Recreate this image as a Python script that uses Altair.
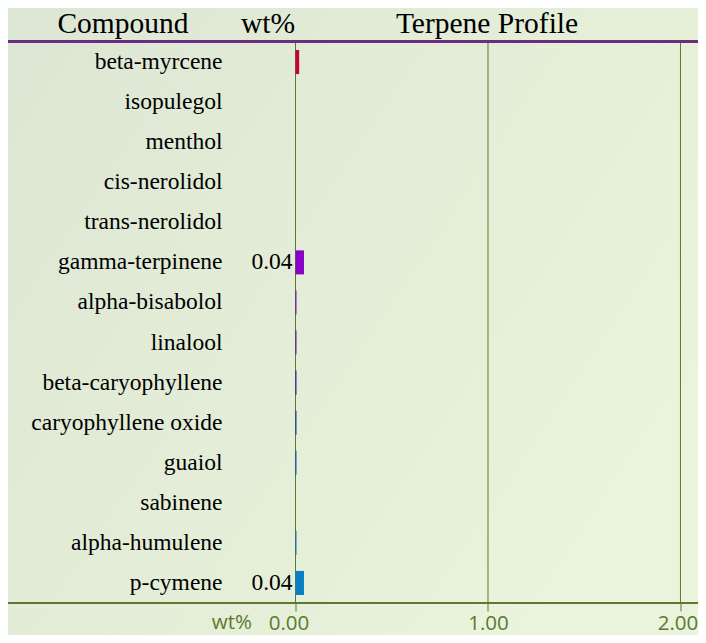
import altair as alt
import pandas as pd

compounds = ["beta-myrcene", "isopulegol", "menthol", "cis-nerolidol", "trans-nerolidol",
             "gamma-terpinene", "alpha-bisabolol", "linalool", "beta-caryophyllene",
             "caryophyllene oxide", "guaiol", "sabinene", "alpha-humulene", "p-cymene"]
values = [0.019, 0.0, 0.0, 0.0, 0.0, 0.044, 0.005, 0.005, 0.005, 0.005, 0.005, 0.0, 0.005, 0.044]
value_labels = ["", "", "", "", "", "0.04", "", "", "", "", "", "", "", "0.04"]
colors = ["#c8003c", "#b8004c", "#a8005c", "#9c0080", "#9000a8", "#8a00c8", "#7400c2",
          "#5e00c0", "#1c18b0", "#1428b8", "#1040c0", "#1050c0", "#0c66c0", "#0a7fc4"]
tick_values = [0, 1, 2]
headers = ["Compound", "wt%", "Terpene Profile"]

df = pd.DataFrame({"compound": compounds, "value": values, "label": value_labels, "color": colors})
ticks_df = pd.DataFrame({"t": tick_values})

ZERO_PX = 287.5
W, H = 402.5, 561
PAD_T, PAD_B = 34, 32
GREEN = "#5b7a2e"

y_enc = alt.Y("compound:N", sort=compounds,
              scale=alt.Scale(paddingInner=0.4, paddingOuter=0.2),
              axis=alt.Axis(title=None, domain=False, ticks=False, labelPadding=73.5,
                            labelFont="Liberation Serif", labelFontSize=23.5,
                            labelColor="#000000", labelLimit=300, zindex=1))
x_scale = alt.Scale(domain=[0, 2.091], nice=False, zero=False)
x_axis = alt.Axis(values=tick_values, format=".2f", title=None, domain=False,
                  grid=False, zindex=1,
                  tickSize=8, tickColor=GREEN, tickWidth=1,
                  labelFont="Open Sans", labelFontSize=20.5, labelColor=GREEN,
                  labelPadding=2, labelFlush=False,
                  labelOffset={"condition": [{"test": "datum.value === 0", "value": -7},
                                             {"test": "datum.value === 2", "value": -3}],
                               "value": 0})

one = alt.Data(values=[{"k": 1}])

bg = alt.Chart(one).mark_rect(
    color=alt.LinearGradient(
        gradient="linear", x1=0, y1=0, x2=1, y2=0.6,
        stops=[alt.GradientStop(color="#dce6d4", offset=0),
               alt.GradientStop(color="#e2ecd6", offset=0.45),
               alt.GradientStop(color="#eaf4dc", offset=1)])
).encode(x=alt.value(-ZERO_PX), x2=alt.value(W), y=alt.value(-PAD_T), y2=alt.value(H + PAD_B))

grid = alt.Chart(ticks_df).mark_rule(color=GREEN, strokeWidth=1).encode(
    x=alt.X("t:Q", scale=x_scale, axis=x_axis))

bars = alt.Chart(df).mark_bar().encode(
    x=alt.X("value:Q", scale=x_scale, axis=x_axis),
    x2=alt.X2(datum=0),
    y=y_enc,
    color=alt.Color("color:N", scale=None),
)

texts = alt.Chart(df).mark_text(align="right", dx=-3, baseline="middle",
                                font="Liberation Serif", fontSize=23.5, color="#000000").encode(
    x=alt.X(datum=0),
    y=alt.Y("compound:N", sort=compounds),
    text="label:N",
)

top_rule = alt.Chart(one).mark_rule(color="#6e2c80", strokeWidth=3).encode(
    x=alt.value(-ZERO_PX - 1), x2=alt.value(W), y=alt.value(-0.5))
bottom_rule = alt.Chart(one).mark_rule(color=GREEN, strokeWidth=2).encode(
    x=alt.value(-ZERO_PX - 1), x2=alt.value(W), y=alt.value(H))

hdr_style = dict(font="Liberation Serif", fontSize=29.5, color="#000000", baseline="alphabetic")
h1 = alt.Chart(one).mark_text(align="center", text=headers[0], **hdr_style).encode(
    x=alt.value(-172.5), y=alt.value(-9.5))
h2 = alt.Chart(one).mark_text(align="right", text=headers[1], **hdr_style).encode(
    x=alt.value(-0.5), y=alt.value(-9.5))
h3 = alt.Chart(one).mark_text(align="center", text=headers[2], **hdr_style).encode(
    x=alt.value(191.5), y=alt.value(-9.5))
wt = alt.Chart(one).mark_text(align="right", text="wt%", font="Open Sans", fontSize=20.5,
                              color=GREEN, baseline="alphabetic").encode(
    x=alt.value(-43.5), y=alt.value(H + 8 + 2 + 16.2))

chart = alt.layer(bg, grid, bars, texts, top_rule, bottom_rule, h1, h2, h3, wt).properties(
    width=W, height=H,
    autosize=alt.AutoSizeParams(type="none"),
    padding={"left": ZERO_PX, "top": PAD_T, "right": 0, "bottom": PAD_B},
    background="#e3edd7",
).configure_view(stroke=None)

chart.save("out.html", embed_options={"renderer": "svg", "actions": False})
